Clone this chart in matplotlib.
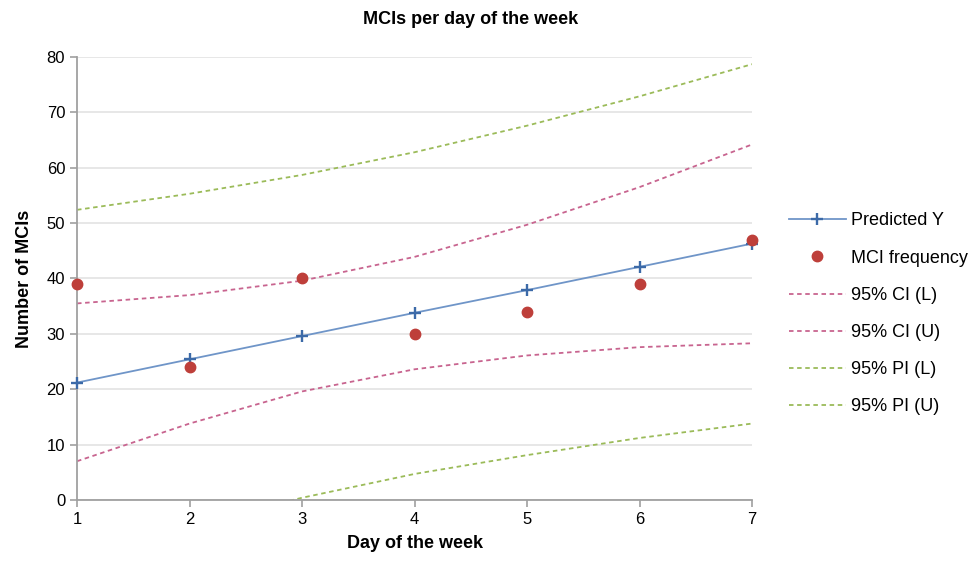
import matplotlib.pyplot as plt

days = [1, 2, 3, 4, 5, 6, 7]
predicted = [21.2, 25.4, 29.6, 33.8, 37.9, 42.1, 46.3]
mci_freq = [39, 24, 40, 30, 34, 39, 47]
ci_low = [7.0, 13.8, 19.6, 23.6, 26.1, 27.6, 28.3]
ci_up = [35.5, 37.0, 39.6, 43.9, 49.7, 56.5, 64.2]
pi_low = [-10.0, -4.5, 0.4, 4.7, 8.1, 11.2, 13.8]
pi_up = [52.4, 55.3, 58.7, 62.8, 67.6, 72.9, 78.7]

plt.rcParams['font.family'] = ['Liberation Sans', 'DejaVu Sans']

fig = plt.figure(figsize=(9.76, 5.69), dpi=100)
ax = fig.add_axes([0.0789, 0.1213, 0.6916, 0.7785])

ax.plot(days, predicted, color='#6F95C8', lw=1.3, marker='+', ms=9, mew=1.7,
        mec='#3C6AA8', label='Predicted Y', zorder=4, clip_on=False)
ax.plot(days, mci_freq, ls='none', marker='o', color='#BE3F3A', ms=7.5,
        label='MCI frequency', zorder=5, clip_on=False)
ax.plot(days, ci_low, color='#C8648F', ls=(0, (2.5, 2)), lw=1.3, label='95% CI (L)')
ax.plot(days, ci_up, color='#C8648F', ls=(0, (2.5, 2)), lw=1.3, label='95% CI (U)')
ax.plot(days, pi_low, color='#9BBB59', ls=(0, (2.5, 2)), lw=1.3, label='95% PI (L)')
ax.plot(days, pi_up, color='#9BBB59', ls=(0, (2.5, 2)), lw=1.3, label='95% PI (U)')

ax.set_xlim(1, 7)
ax.set_ylim(0, 80)
ax.set_yticks(range(0, 81, 10))
ax.set_xticks(days)
ax.grid(axis='y', color='#E3E3E3', lw=1.2)
ax.set_axisbelow(True)
for s in ['top', 'right']:
    ax.spines[s].set_visible(False)
for s in ['left', 'bottom']:
    ax.spines[s].set_color('#A0A0A0')
    ax.spines[s].set_linewidth(1.3)
ax.tick_params(colors='#A0A0A0', length=5, width=1.2, labelcolor='black', labelsize=12)

fig.text(0.4826, 0.965, 'MCIs per day of the week', fontsize=13, fontweight='bold',
         ha='center', va='center')
ax.set_xlabel('Day of the week', fontsize=13, fontweight='bold', labelpad=6)
ax.set_ylabel('Number of MCIs', fontsize=13, fontweight='bold', labelpad=10)

ax.legend(loc='center left', bbox_to_anchor=(1.03, 0.42), frameon=False, fontsize=13,
          labelspacing=1.12, handlelength=3.2, handletextpad=0.25)

fig.savefig('out.png', dpi=100)
